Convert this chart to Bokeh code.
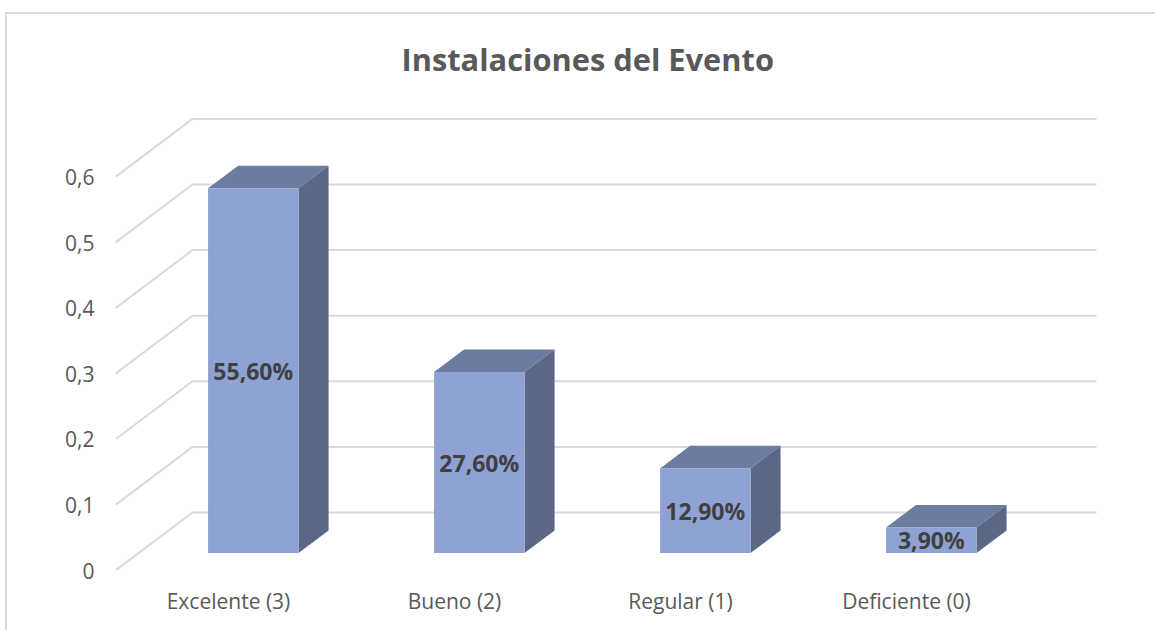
from bokeh.plotting import figure
from bokeh.models import ColumnDataSource, FixedTicker, Range1d, Title
from bokeh.core.properties import value
from bokeh.embed import file_html
from bokeh.resources import INLINE

categories = ["Excelente (3)", "Bueno (2)", "Regular (1)", "Deficiente (0)"]
shares = [0.556, 0.276, 0.129, 0.039]
share_labels = ["55,60%", "27,60%", "12,90%", "3,90%"]
y_ticks = [0, 0.1, 0.2, 0.3, 0.4, 0.5, 0.6]
y_tick_labels = ["0", "0,1", "0,2", "0,3", "0,4", "0,5", "0,6"]
title_text = "Instalaciones del Evento"

PX_X, PX_Y = 226.0, 656.0          # pixels per data unit
WALL_DX, WALL_DY = 77 / PX_X, 58 / PX_Y   # oblique projection of the full depth
D0, D1 = 0.30, 0.69                # bar's depth span, as share of the wall depth
BAR_W = 90.5 / PX_X
SHIFT = 1.7 / PX_X
GRID, TICK, LABEL = "#d9d9d9", "#595959", "#404040"
FRONT, TOP, SIDE = "#8fa2d4", "#6b7ca0", "#5b6785"
FONT = "Open Sans"

p = figure(width=1148, height=615, output_backend="svg", toolbar_location=None,
           x_range=Range1d(0, 1040 / PX_X), y_range=Range1d(0, 470 / PX_Y),
           frame_width=1040, frame_height=470,
           min_border_left=108, min_border_right=0, min_border_bottom=60, min_border_top=16,
           outline_line_color=None, background_fill_color="white", border_fill_color="white",
           margin=(12, 0, 0, 5))
p.styles = {"border-left": "2px solid #d9d9d9", "border-top": "2px solid #d9d9d9", "box-sizing": "content-box"}

t = Title(text=title_text, align="left", offset=286, text_font=FONT, text_font_size="30.8px",
          text_font_style="bold", text_color=TICK, standoff=42)
p.add_layout(t, "above")

p.grid.visible = False
p.yaxis.ticker = FixedTicker(ticks=y_ticks)
p.yaxis.major_label_overrides = dict(zip(y_ticks, y_tick_labels))
p.yaxis.major_label_standoff = 15
p.xaxis.ticker = FixedTicker(ticks=[i + 0.5 for i in range(len(categories))])
p.xaxis.major_label_overrides = {i + 0.5: c for i, c in enumerate(categories)}
p.xaxis.major_label_standoff = 10
for ax in (p.xaxis[0], p.yaxis[0]):
    ax.axis_line_color = None
    ax.major_tick_line_color = None
    ax.minor_tick_line_color = None
    ax.major_label_text_font = FONT
    ax.major_label_text_font_size = "21px"
    ax.major_label_text_color = TICK

n = len(categories)
for v in y_ticks:
    p.line([0, WALL_DX, n + WALL_DX], [v, v + WALL_DY, v + WALL_DY], line_color=GRID, line_width=2)

lefts = [i + 0.5 - BAR_W / 2 + D0 * WALL_DX + SHIFT for i in range(n)]
rights = [l + BAR_W for l in lefts]
base = D0 * WALL_DY
tops = [s + base for s in shares]
ddx, ddy = (D1 - D0) * WALL_DX, (D1 - D0) * WALL_DY

p.patches([[l, r, r + ddx, l + ddx] for l, r in zip(lefts, rights)],
          [[y, y, y + ddy, y + ddy] for y in tops], fill_color=TOP, line_color=None)
p.patches([[r, r + ddx, r + ddx, r] for r in rights],
          [[base, base + ddy, y + ddy, y] for y in tops], fill_color=SIDE, line_color=None)
p.quad(left=lefts, right=rights, bottom=base, top=tops, fill_color=FRONT, line_color=None)

src = ColumnDataSource(dict(x=[(l + r) / 2 for l, r in zip(lefts, rights)],
                            y=[base + s / 2 for s in shares], t=share_labels))
p.text(x="x", y="y", text="t", source=src, text_align="center", text_baseline="middle",
       y_offset=0, text_font=value(FONT), text_font_size="23px", text_font_style="bold",
       text_color=LABEL)

open("out.html", "w").write(file_html(p, INLINE))
